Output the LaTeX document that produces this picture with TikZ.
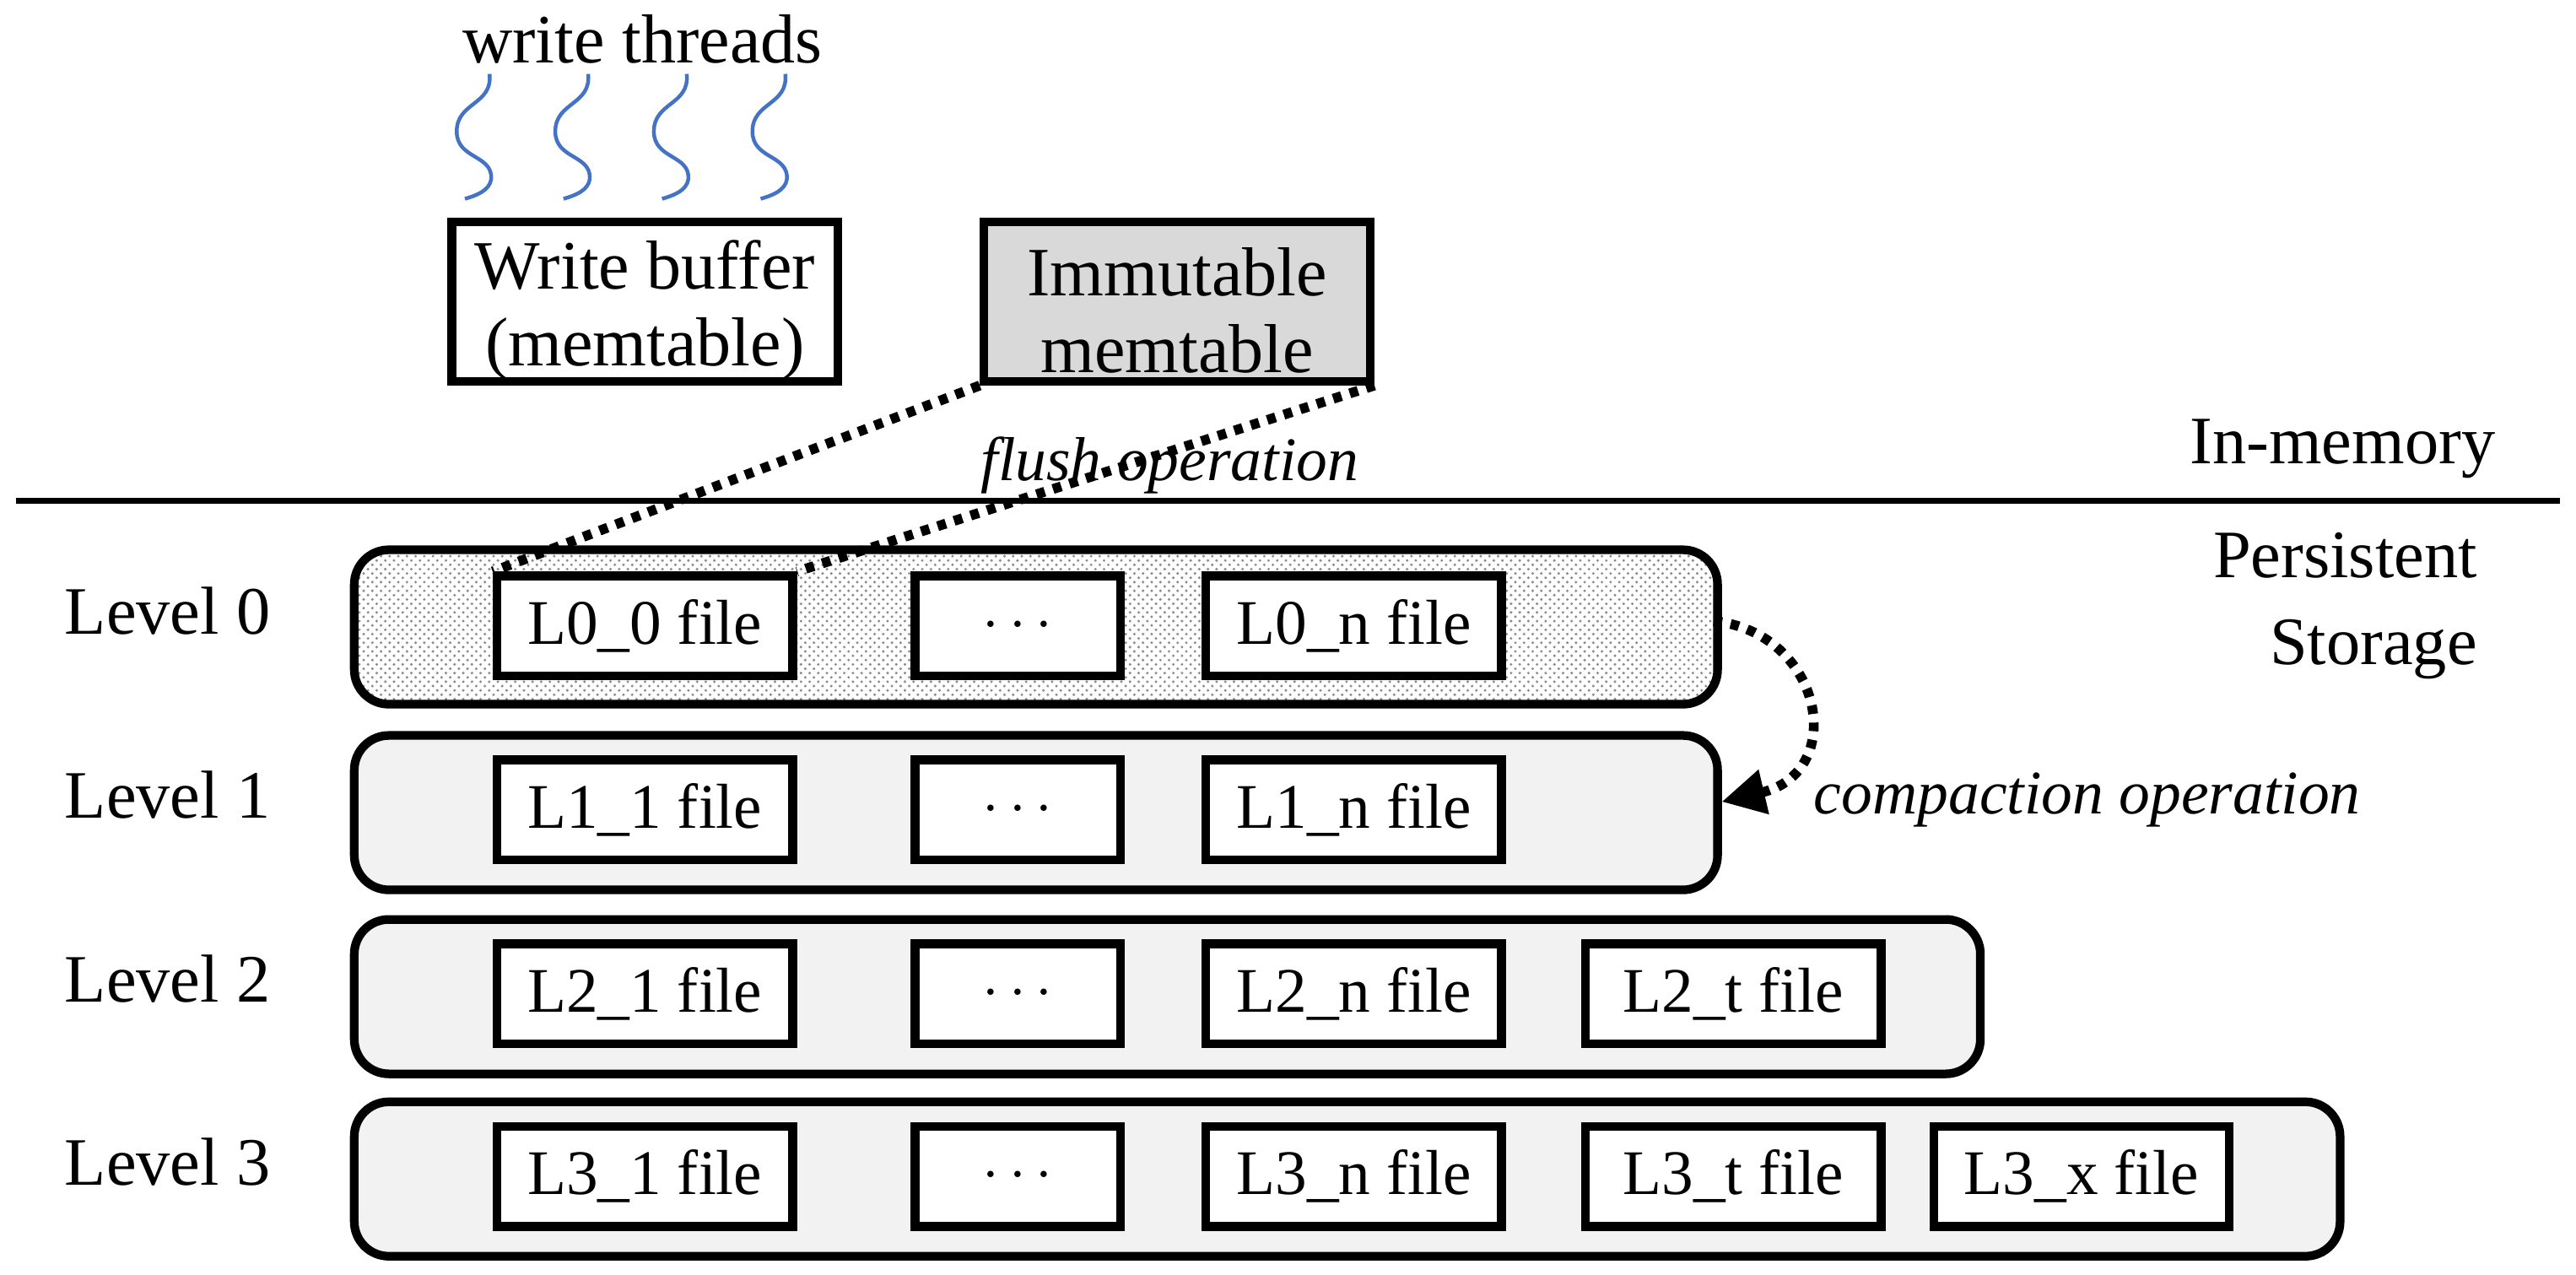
\documentclass[tikz,border=0pt]{standalone}
\usepackage{fontspec}
\setmainfont{Liberation Serif}
\usetikzlibrary{patterns,arrows.meta}
\definecolor{thr}{HTML}{4472C4}
\begin{document}
\begin{tikzpicture}[x=0.02cm,y=-0.02cm,
  lvl/.style={draw,line width=3pt,rounded corners=12pt,fill=black!5},
  file/.style={draw,line width=3pt,fill=white,minimum width=3.6cm,minimum height=1.22cm,font=\fontsize{22}{26}\selectfont,inner sep=0pt},
  mem/.style={draw,line width=3pt,minimum width=4.7cm,minimum height=1.94cm,inner sep=0pt},
  memtxt/.style={align=center,font=\fontsize{24}{26.5}\selectfont},
  lab/.style={font=\fontsize{23.5}{30}\selectfont},
  dots/.style={line width=3.4pt,dash pattern=on 3pt off 3pt}]
\useasboundingbox (0,0) rectangle (1568,776);
\node[font=\fontsize{24}{28}\selectfont] (wt) at (391,24) {write threads};
\foreach \x in {290,350,410,470}{
  \draw[thr,line width=1.3pt] (\x+8,45) .. controls (\x+10,64) and (\x-12,62) .. (\x-12,80)
     .. controls (\x-12,97) and (\x+10,94) .. (\x+9,109) .. controls (\x+8,116) and (\x,119) .. (\x-7,121);
}
\node[mem] (wb) at (392.5,183.5) {};
\node[memtxt] (wbt) at (392.5,189) {Write buffer\\(memtable)};
\node[mem,fill=black!15] (im) at (716.5,183.5) {};
\node[memtxt] (imt) at (716.5,189) {Immutable\\memtable};
\draw[line width=2pt] (10,305) coordinate (ls) -- (1558,305) coordinate (le);
\node[lab,anchor=east] (inm) at (1525,273) {In-memory};
\node[lab,anchor=north east,align=right] (ps) at (1514,318) {Persistent\\Storage};
\node[font=\fontsize{21.5}{26}\selectfont\itshape] (fl) at (712,283) {flush operation};
% levels
\node[lvl,pattern=crosshatch dots,pattern color=black!45,minimum width=16.6cm,minimum height=1.88cm,anchor=north west] (l0) at (213,332) {};
\foreach \i/\y/\w in {1/445/16.6,2/557/19.8,3/668/24.18}{
  \node[lvl,minimum width=\w cm,minimum height=1.88cm,anchor=north west] (l\i) at (213,\y) {};
}
\foreach \i/\y in {0/381,1/493,2/605,3/716}{
  \node[lab] (lab\i) at (102,\y-9) {Level \i};
  \node[file] (f\i a) at (392.5,\y) {L\i\_\ifnum\i=0 0\else 1\fi\ file};
  \node[file,minimum width=2.5cm] (f\i b) at (619.5,\y) {$\cdots$};
  \node[file] (f\i c) at (824,\y) {L\i\_n file};
}
\node[file] (f2d) at (1055,605) {L2\_t file};
\node[file] (f3d) at (1055,716) {L3\_t file};
\node[file] (f3e) at (1267,716) {L3\_x file};
\draw[dots] (im.south west) -- (f0a.north west);
\draw[dots] (im.south east) -- (f0a.north east);
\coordinate (cs) at (1043,378);
\coordinate (ce) at (1048,488);
\draw[dots,-{Triangle[length=15pt,width=15pt]}] (cs) .. controls (1110,385) and (1125,470) .. (ce);
\node[font=\fontsize{21.5}{26}\selectfont\itshape,anchor=west] (cp) at (1098,487) {compaction operation};
\end{tikzpicture}
\end{document}
